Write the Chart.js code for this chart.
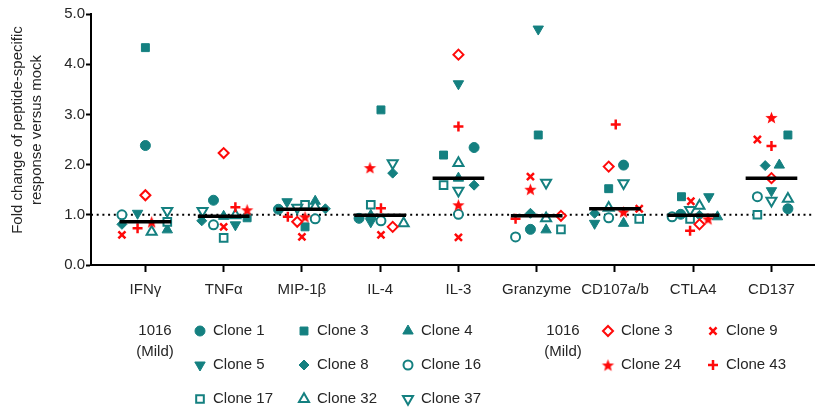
<!DOCTYPE html>
<html lang="en">
<head>
<meta charset="utf-8">
<title>Fold change of peptide-specific response versus mock</title>
<script src="https://cdn.jsdelivr.net/npm/chart.js@4.4.1/dist/chart.umd.min.js"></script>
<style>
  html, body { margin: 0; padding: 0; background: #fff; }
  canvas { display: block; }
</style>
</head>
<body>
<canvas id="chart" width="822" height="414"></canvas>
<script>
var categories = ['IFNγ', 'TNFα', 'MIP-1β', 'IL-4', 'IL-3', 'Granzyme', 'CD107a/b', 'CTLA4', 'CD137'];

// fold change, one value per category (1016 mild, teal clones)
var clone1  = [2.38, 1.29, 1.11, 0.93, 2.34, 0.71, 1.99, 1.01, 1.12];
var clone3  = [4.33, 0.94, 0.76, 3.09, 2.19, 2.59, 1.52, 1.36, 2.59];
var clone4  = [0.70, 0.97, 1.27, 0.99, 1.73, 0.70, 0.83, 0.96, 1.99];
var clone5  = [1.03, 0.80, 1.26, 0.86, 3.61, 4.70, 0.83, 1.36, 1.48];
var clone8  = [0.81, 0.88, 1.12, 1.83, 1.59, 1.03, 1.03, 0.99, 1.98];
var clone16 = [1.00, 0.80, 0.92, 0.88, 1.01, 0.56, 0.94, 0.96, 1.36];
var clone17 = [0.86, 0.54, 1.20, 1.20, 1.59, 0.71, 0.92, 0.92, 1.00];
var clone32 = [0.66, 0.99, 1.16, 0.83, 2.03, 0.93, 1.14, 1.18, 1.32];
var clone37 = [1.08, 1.08, 1.14, 2.03, 1.48, 1.64, 1.63, 1.10, 1.28];
// red clones
var clone3r = [1.39, 2.23, 0.86, 0.76, 4.19, 0.98, 1.96, 0.81, 1.73];
var clone9  = [0.60, 0.76, 0.56, 0.60, 0.55, 1.76, 1.12, 1.27, 2.50];
var clone24 = [0.86, 1.10, 0.96, 1.94, 1.20, 1.51, 1.06, 0.92, 2.94];
var clone43 = [0.73, 1.15, 0.96, 1.13, 2.76, 0.92, 2.80, 0.68, 2.37];

// scatter of each point inside its column, in category widths
var clone1Jit  = [0.00, -0.13, -0.30, -0.27, 0.20, -0.08, 0.11, -0.16, 0.21];
var clone3Jit  = [0.00, 0.30, 0.04, 0.01, -0.19, 0.02, -0.08, -0.15, 0.21];
var clone4Jit  = [0.28, 0.00, 0.17, -0.12, 0.00, 0.12, 0.11, 0.31, 0.10];
var clone5Jit  = [-0.10, 0.15, -0.19, -0.12, 0.00, 0.02, -0.26, 0.20, 0.00];
var clone8Jit  = [-0.30, -0.28, 0.30, 0.16, 0.20, -0.08, -0.26, 0.08, -0.08];
var clone16Jit = [-0.30, -0.13, 0.17, 0.01, 0.00, -0.27, -0.08, -0.27, -0.18];
var clone17Jit = [0.28, 0.00, 0.04, -0.12, -0.19, 0.31, 0.31, -0.04, -0.18];
var clone32Jit = [0.08, 0.15, 0.17, 0.30, 0.00, 0.12, -0.08, 0.08, 0.21];
var clone37Jit = [0.28, -0.27, -0.06, 0.16, 0.00, 0.12, 0.11, -0.04, 0.00];
var clone3rJit = [0.00, 0.00, -0.06, 0.16, 0.00, 0.31, -0.08, 0.08, 0.00];
var clone9Jit  = [-0.30, 0.00, 0.00, 0.01, 0.00, -0.08, 0.31, -0.03, -0.18];
var clone24Jit = [0.08, 0.30, 0.04, -0.13, 0.00, -0.08, 0.11, 0.19, 0.00];
var clone43Jit = [-0.10, 0.15, -0.18, 0.01, 0.00, -0.27, 0.01, -0.04, 0.00];

var TEAL = '#148080';
var RED = '#ff0a0a';
var TEXT = '#262626';

function makeStar(r, color) {
  var c = document.createElement('canvas');
  c.width = c.height = Math.ceil(r * 2 + 2);
  var g = c.getContext('2d');
  g.translate(c.width / 2, c.height / 2 + r * 0.1);
  g.beginPath();
  for (var k = 0; k < 10; k++) {
    var rr = k % 2 ? r * 0.42 : r;
    var a = -Math.PI / 2 + k * Math.PI / 5;
    g.lineTo(rr * Math.cos(a), rr * Math.sin(a));
  }
  g.closePath();
  g.fillStyle = color;
  g.fill();
  return c;
}

var series = [
  { label: 'Clone 1',  values: clone1,  jit: clone1Jit,  style: 'circle',   rot: 0,   r: 5,   fill: TEAL,   line: TEAL, bw: 1 },
  { label: 'Clone 3',  values: clone3,  jit: clone3Jit,  style: 'rect',     rot: 0,   r: 5.6, fill: TEAL,   line: TEAL, bw: 1 },
  { label: 'Clone 4',  values: clone4,  jit: clone4Jit,  style: 'triangle', rot: 0,   r: 6,   fill: TEAL,   line: TEAL, bw: 1 },
  { label: 'Clone 5',  values: clone5,  jit: clone5Jit,  style: 'triangle', rot: 180, r: 6,   fill: TEAL,   line: TEAL, bw: 1 },
  { label: 'Clone 8',  values: clone8,  jit: clone8Jit,  style: 'rectRot',  rot: 0,   r: 5,   fill: TEAL,   line: TEAL, bw: 1 },
  { label: 'Clone 16', values: clone16, jit: clone16Jit, style: 'circle',   rot: 0,   r: 4.5, fill: '#fff', line: TEAL, bw: 2 },
  { label: 'Clone 17', values: clone17, jit: clone17Jit, style: 'rect',     rot: 0,   r: 5.4, fill: '#fff', line: TEAL, bw: 2 },
  { label: 'Clone 32', values: clone32, jit: clone32Jit, style: 'triangle', rot: 0,   r: 5.8, fill: '#fff', line: TEAL, bw: 2 },
  { label: 'Clone 37', values: clone37, jit: clone37Jit, style: 'triangle', rot: 180, r: 5.8, fill: '#fff', line: TEAL, bw: 2 },
  { label: 'Clone 3',  values: clone3r, jit: clone3rJit, style: 'rectRot',  rot: 0,   r: 5,   fill: '#fff', line: RED,  bw: 2 },
  { label: 'Clone 9',  values: clone9,  jit: clone9Jit,  style: 'crossRot', rot: 0,   r: 5,   fill: RED,    line: RED,  bw: 2.5 },
  { label: 'Clone 24', values: clone24, jit: clone24Jit, style: makeStar(6.5, RED), rot: 0, r: 6.5, fill: RED, line: RED, bw: 1 },
  { label: 'Clone 43', values: clone43, jit: clone43Jit, style: 'cross',    rot: 0,   r: 5,   fill: RED,    line: RED,  bw: 2.5 }
];

function median(arr) {
  var s = arr.slice().sort(function (a, b) { return a - b; });
  var m = Math.floor(s.length / 2);
  return s.length % 2 ? s[m] : (s[m - 1] + s[m]) / 2;
}

var medianData = [];
categories.forEach(function (c, i) {
  var m = median(series.map(function (s) { return s.values[i]; }));
  medianData.push({ x: i - 0.33, y: m }, { x: i + 0.33, y: m }, { x: i + 0.5, y: null });
});

var X_MIN = -0.695, X_MAX = 8.546;

var datasets = [{
  type: 'line',
  label: 'median',
  data: medianData,
  borderColor: '#000',
  borderWidth: 3.5,
  pointRadius: 0,
  spanGaps: false,
  order: 0
}, {
  type: 'line',
  label: 'mock',
  data: [{ x: X_MIN, y: 1 }, { x: X_MAX, y: 1 }],
  borderColor: '#000',
  borderWidth: 2,
  borderDash: [2, 3.7],
  pointRadius: 0,
  order: 100
}];

series.forEach(function (s, k) {
  datasets.push({
    type: 'scatter',
    label: s.label,
    data: s.values.map(function (v, i) { return { x: i + s.jit[i], y: v }; }),
    pointStyle: s.style,
    pointRotation: s.rot,
    pointRadius: s.r,
    pointHoverRadius: s.r,
    backgroundColor: s.fill,
    borderColor: s.line,
    pointBorderWidth: s.bw,
    order: 50 - k
  });
});

// legend rows as in the figure
var legendPlugin = {
  id: 'cloneLegend',
  afterDraw: function (chart) {
    var ctx = chart.ctx;
    ctx.save();
    ctx.font = '15px "Liberation Sans", Arial, sans-serif';
    ctx.fillStyle = TEXT;
    ctx.textAlign = 'center';
    ctx.textBaseline = 'middle';
    [155, 563].forEach(function (x) {
      ctx.fillText('1016', x, 331);
      ctx.fillText('(Mild)', x, 352);
    });

    var slots = [
      [200, 331], [304, 331], [408, 331],
      [200, 365], [304, 365], [408, 365],
      [200, 399], [304, 399], [408, 399],
      [608, 331], [713, 331],
      [608, 365], [713, 365]
    ];
    series.forEach(function (s, k) {
      var x = slots[k][0], y = slots[k][1];
      ctx.fillStyle = s.fill;
      ctx.strokeStyle = s.line;
      ctx.lineWidth = s.bw;
      Chart.helpers.drawPoint(ctx, {
        pointStyle: s.style,
        radius: s.r,
        rotation: s.rot,
        borderWidth: s.bw
      }, x, y);
      ctx.fillStyle = TEXT;
      ctx.textAlign = 'left';
      ctx.fillText(s.label, x + 13, y);
    });

    // y axis title
    ctx.textAlign = 'center';
    ctx.fillStyle = TEXT;
    [['Fold change of peptide-specific', 18], ['response versus mock', 37]].forEach(function (t) {
      ctx.save();
      ctx.translate(t[1], 130);
      ctx.rotate(-Math.PI / 2);
      ctx.fillText(t[0], 0, 0);
      ctx.restore();
    });
    ctx.restore();
  }
};

Chart.defaults.font.family = '"Liberation Sans", Arial, sans-serif';
Chart.defaults.font.size = 15;
Chart.defaults.color = TEXT;

var config = {
  type: 'scatter',
  data: { datasets: datasets },
  options: {
    responsive: false,
    animation: false,
    layout: { padding: { top: 14, right: 0, bottom: 0, left: 0 } },
    plugins: {
      legend: { display: false },
      tooltip: { enabled: false }
    },
    scales: {
      x: {
        type: 'linear',
        min: X_MIN,
        max: X_MAX,
        afterBuildTicks: function (scale) {
          scale.ticks = categories.map(function (c, i) { return { value: i }; });
        },
        afterFit: function (scale) { scale.height = 149; },
        ticks: {
          autoSkip: false,
          maxRotation: 0,
          padding: 9,
          callback: function (v) { return categories[v]; }
        },
        grid: { drawOnChartArea: false, tickLength: 7, tickWidth: 2, tickColor: '#000' },
        border: { display: true, color: '#000', width: 2 }
      },
      y: {
        min: 0,
        max: 5,
        afterFit: function (scale) { scale.width = 91; },
        ticks: {
          stepSize: 1,
          padding: 1,
          callback: function (v) { return v.toFixed(1); }
        },
        grid: { drawOnChartArea: false, tickLength: 5, tickWidth: 2, tickColor: '#000' },
        border: { display: true, color: '#000', width: 2 }
      }
    }
  },
  plugins: [legendPlugin]
};

window.onload = function () {
  var ctx = document.getElementById('chart').getContext('2d');
  window.myChart = new Chart(ctx, config);
};
</script>
</body>
</html>
